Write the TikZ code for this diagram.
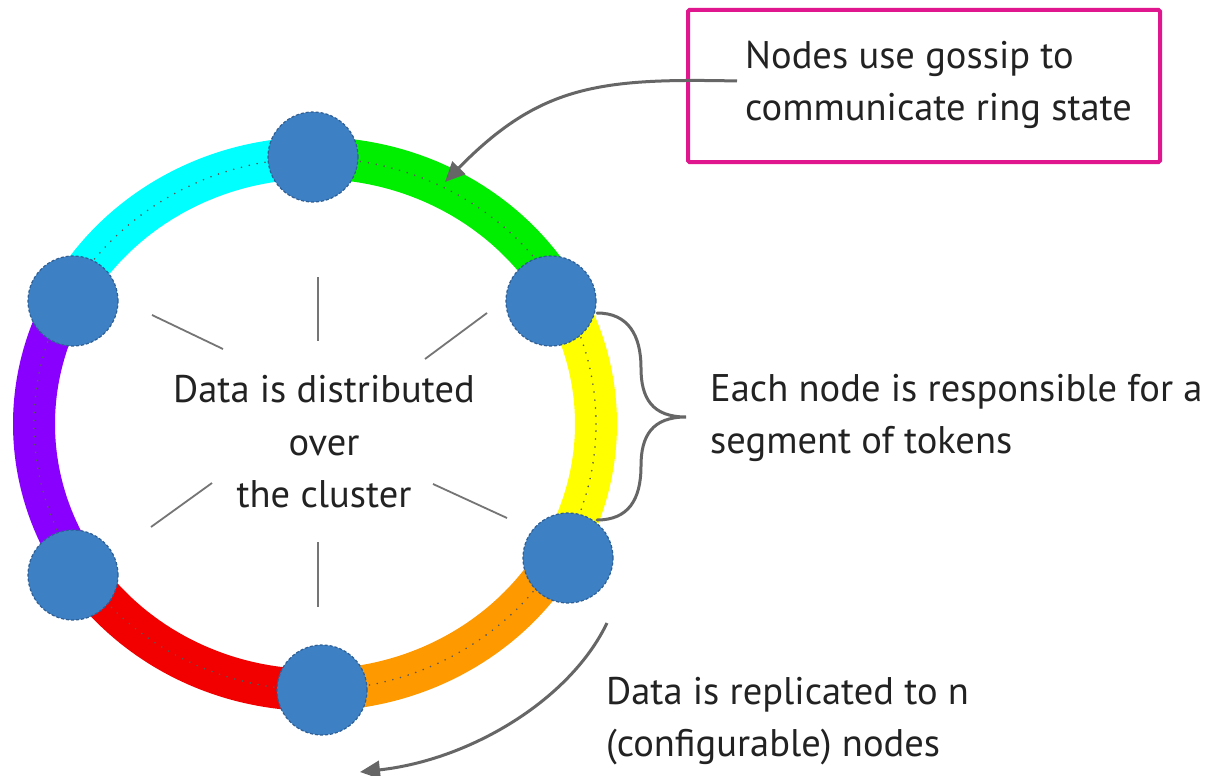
\documentclass[tikz,border=0pt]{standalone}
\usepackage{fontspec}
\setmainfont{PT Sans}
\usetikzlibrary{arrows.meta}
\definecolor{ringcyan}{HTML}{00FFFF}
\definecolor{ringgreen}{HTML}{00EE00}
\definecolor{ringyellow}{HTML}{FFFF00}
\definecolor{ringorange}{HTML}{FF9900}
\definecolor{ringred}{HTML}{F20000}
\definecolor{ringpurple}{HTML}{8A00FF}
\definecolor{nodeblue}{HTML}{3D80C4}
\definecolor{nodeedge}{HTML}{2E5F96}
\definecolor{boxmag}{HTML}{E0168F}
\definecolor{linegray}{HTML}{666666}
\definecolor{textcol}{HTML}{222222}
\tikzset{
  ringseg/.style={line width=42pt},
  dotline/.style={draw=black!65, line width=1.8pt, line cap=round, dash pattern=on 0pt off 8pt},
  ringnode/.style={circle, minimum size=90pt, inner sep=0pt, fill=nodeblue, draw=nodeedge, line width=1.2pt, densely dashed},
  spoke/.style={draw=linegray!90, line width=1.8pt},
  lbl/.style={font=\fontsize{38.5}{44}\selectfont, text=textcol, inner sep=0pt},
  callout/.style={draw=linegray, line width=3pt},
  tip/.style={-{Triangle[length=20pt,width=18pt]}}
}
\begin{document}
\begin{tikzpicture}[x=1pt,y=1pt]
\useasboundingbox (0,0) rectangle (1210,-776);
\fill[white] (0,0) rectangle (1210,-776);

\coordinate (c) at (315,-424);
% ring segments
\draw[ringseg, ringgreen]  (c) ++(29:281 and 266)  arc[start angle=29,  end angle=90,  x radius=281, y radius=266];
\draw[ringseg, ringcyan]   (c) ++(90:281 and 266)  arc[start angle=90,  end angle=152, x radius=281, y radius=266];
\draw[ringseg, ringpurple] (c) ++(152:281 and 266) arc[start angle=152, end angle=213, x radius=281, y radius=266];
\draw[ringseg, ringred]    (c) ++(213:281 and 266) arc[start angle=213, end angle=270, x radius=281, y radius=266];
\draw[ringseg, ringorange] (c) ++(270:281 and 266) arc[start angle=270, end angle=331, x radius=281, y radius=266];
\draw[ringseg, ringyellow] (c) ++(-29:281 and 266) arc[start angle=-29, end angle=29,  x radius=281, y radius=266];
\draw[dotline] (c) ellipse [x radius=281, y radius=266];

% ring nodes
\node[ringnode] (ntop) at (313,-157) {};
\node[ringnode] (nur)  at (551,-301) {};
\node[ringnode] (nlr)  at (568,-558) {};
\node[ringnode] (nbot) at (322,-690) {};
\node[ringnode] (nll)  at (73,-575) {};
\node[ringnode] (nul)  at (73,-301) {};

% centre text
\node[lbl, anchor=base] (d1) at (324,-402) {Data is distributed};
\node[lbl, anchor=base] (d2) at (324,-455) {over};
\node[lbl, anchor=base] (d3) at (324,-507) {the cluster};

% spokes
\coordinate (s1a) at (152,-315); \coordinate (s1b) at (223,-349);
\coordinate (s2a) at (318,-277); \coordinate (s2b) at (318,-341);
\coordinate (s3a) at (487,-313); \coordinate (s3b) at (425,-359);
\coordinate (s4a) at (212,-483); \coordinate (s4b) at (151,-527);
\coordinate (s5a) at (433,-484); \coordinate (s5b) at (507,-518);
\coordinate (s6a) at (318,-542); \coordinate (s6b) at (318,-607);
\draw[spoke] (s1a) -- (s1b);
\draw[spoke] (s2a) -- (s2b);
\draw[spoke] (s3a) -- (s3b);
\draw[spoke] (s4a) -- (s4b);
\draw[spoke] (s5a) -- (s5b);
\draw[spoke] (s6a) -- (s6b);

% gossip box
\node[draw=boxmag, line width=4pt, rounded corners=1.5pt, minimum width=472pt, minimum height=152pt, inner sep=0pt] (gbox) at (924,-86) {};
\node[lbl, anchor=base west] (g1) at (745,-68) {Nodes use gossip to};
\node[lbl, anchor=base west] (g2) at (745,-120) {communicate ring state};
\coordinate (gs) at (737,-81);
\coordinate (gt) at (445,-182);
\draw[callout, tip] (gs) .. controls (600,-78) and (540,-85) .. (gt);

% brace
\coordinate (bt) at (597,-313);
\coordinate (bm) at (686,-417);
\coordinate (bb) at (597,-520);
\draw[callout, line cap=round, line join=miter] (bt) .. controls (628,-313) and (641,-335) .. (641,-368)
  .. controls (641,-398) and (652,-417) .. (bm)
  .. controls (652,-417) and (641,-436) .. (641,-466)
  .. controls (641,-500) and (628,-520) .. (bb);
\node[lbl, anchor=base west] (e1) at (710,-401) {Each node is responsible for a};
\node[lbl, anchor=base west] (e2) at (710,-453) {segment of tokens};

% replication arrow
\coordinate (rs) at (607,-623);
\coordinate (rt) at (360,-772);
\draw[callout, tip] (rs) .. controls (570,-700) and (470,-760) .. (rt);
\node[lbl, anchor=base west] (r1) at (606,-704) {Data is replicated to n};
\node[lbl, anchor=base west] (r2) at (606,-756) {(configurable) nodes};
\end{tikzpicture}
\end{document}
